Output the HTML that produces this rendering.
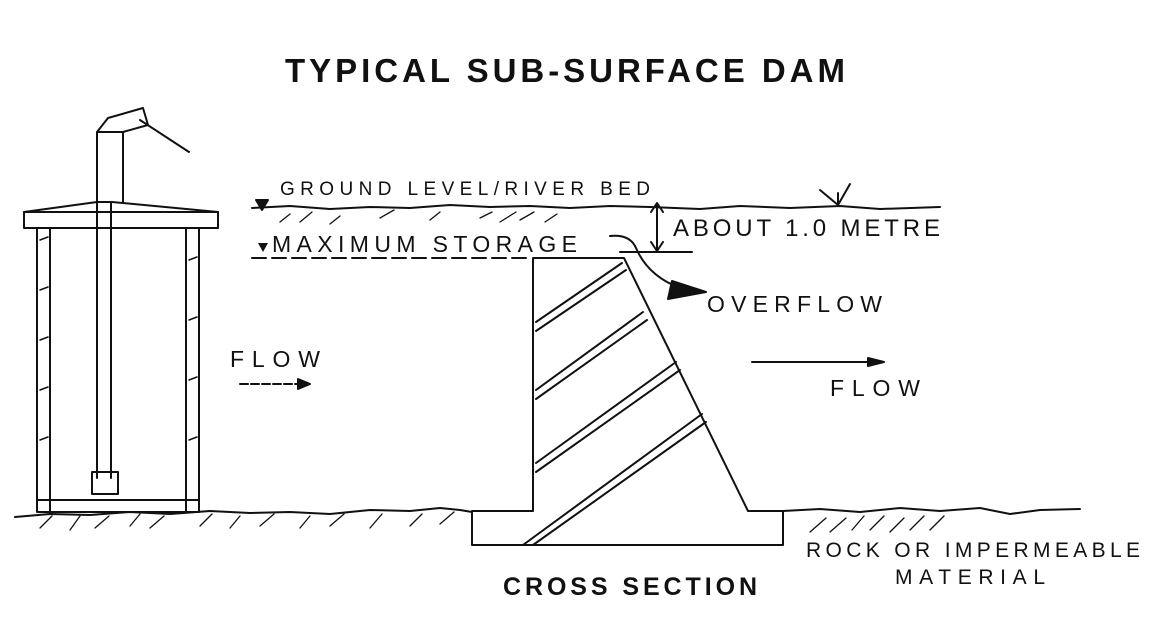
<!DOCTYPE html>
<html><head><style>
html,body{margin:0;padding:0;background:#fff;width:1151px;height:617px;overflow:hidden}
svg{display:block}
text{font-family:"Liberation Sans",sans-serif;fill:#111}
</style></head><body>
<svg width="1151" height="617" viewBox="0 0 1151 617" xmlns="http://www.w3.org/2000/svg">
<g fill="none" stroke="#111" stroke-width="2" stroke-linecap="round" stroke-linejoin="round">
<path d="M24 212 L218 212 L218 228 L24 228 Z" fill="#fff"/>
<path d="M24 212 L97 202 L112 202 L218 212"/>
<path d="M37 228 V512 M50 228 V512 M186 228 V512 M199 228 V512 M37 512 H199 M37 500 H199"/>
<path d="M97 202 V478 M111 202 V478"/>
<rect x="92" y="472" width="26" height="22"/>
<path d="M97 202 V132 M123 202 V132 M97 132 L108 118 L143 108 L148 125 L123 132 Z"/>
<path d="M140 120 L189 152"/>
<path d="M40 240 l8 -3 M40 290 l8 -3 M40 340 l8 -3 M40 390 l8 -3 M40 440 l8 -3 M189 260 l8 -3 M189 320 l8 -3 M189 380 l8 -3 M189 440 l8 -3" stroke-width="1.5"/>
<polyline points="252,208 290,206 330,209 370,207 410,208 450,205 490,207 530,206 570,208 610,206 650,207 700,209 740,206 790,208 840,206 880,209 940,207"/>
<path d="M256 200 L268 200 L262 210 Z" fill="#111"/>
<path d="M258 243 L268 243 L263 252 Z" fill="#111" stroke="none"/>
<path d="M820 190 L838 205 L850 184 M838 205 V193" />
<path d="M280 222 l10 -8 M300 222 l12 -10 M330 224 l10 -8 M380 218 l14 -8 M430 220 l10 -8 M480 218 l12 -6 M500 222 l16 -10 M520 220 l14 -8 M545 222 l12 -8" stroke-width="1.3"/>
<path d="M252 258 H532" stroke-dasharray="14 6"/>
<path d="M657 204 V250 M651 212 L657 203 L663 212 M651 242 L657 251 L663 242 M620 252 H692"/>
<path d="M610 236 Q630 234 636 248 Q648 276 680 288 L700 290"/>
<path d="M672 281 L706 292 L668 299 Z" fill="#111"/>
<path d="M472 511 H533 V258 H624 L748 511 H783 V545 H472 Z" fill="#fff"/>
<path d="M536 322 L622 263 M536 331 L626 270"/>
<path d="M536 390 L643 312 M536 399 L647 320"/>
<path d="M536 463 L676 362 M536 472 L680 370"/>
<path d="M523 545 L702 414 M533 545 L706 422"/>
<polyline points="15,517 50,514 90,515 130,512 170,514 210,511 250,513 290,512 330,514 370,510 410,511 440,508 460,510 472,512"/>
<polyline points="783,511 820,509 860,512 900,508 940,511 980,508 1010,514 1040,510 1080,509"/>
<path d="M40 528 l12 -12 M70 530 l10 -14 M95 528 l14 -12 M130 526 l10 -12 M150 528 l14 -12 M200 526 l12 -12 M230 528 l10 -12 M260 526 l14 -12 M300 528 l10 -12 M330 526 l14 -12 M370 528 l12 -14 M410 526 l12 -12 M440 524 l14 -12 M810 532 l16 -14 M830 532 l16 -14 M852 530 l12 -14 M870 530 l14 -14 M890 532 l14 -14 M910 530 l14 -14 M930 530 l14 -14" stroke-width="1.3"/>
<path d="M240 384 H305" stroke-dasharray="8 3"/>
<path d="M298 379 L310 384 L298 389 Z" fill="#111"/>
<path d="M752 362 H880"/>
<path d="M868 358 L884 362 L868 366 Z" fill="#111"/>
</g>
<text x="285" y="82" font-size="33" font-weight="bold" textLength="560" lengthAdjust="spacing">TYPICAL SUB-SURFACE DAM</text>
<text x="280" y="195" font-size="19" textLength="370" lengthAdjust="spacing">GROUND LEVEL/RIVER BED</text>
<text x="272" y="252" font-size="23" textLength="305" lengthAdjust="spacing">MAXIMUM STORAGE</text>
<text x="673" y="236" font-size="24" textLength="267" lengthAdjust="spacing">ABOUT 1.0 METRE</text>
<text x="707" y="312" font-size="23" textLength="175" lengthAdjust="spacing">OVERFLOW</text>
<text x="230" y="367" font-size="23" textLength="90" lengthAdjust="spacing">FLOW</text>
<text x="830" y="396" font-size="23" textLength="90" lengthAdjust="spacing">FLOW</text>
<text x="806" y="557" font-size="21" textLength="334" lengthAdjust="spacing">ROCK OR IMPERMEABLE</text>
<text x="895" y="584" font-size="21" textLength="150" lengthAdjust="spacing">MATERIAL</text>
<text x="503" y="595" font-size="25" font-weight="bold" textLength="254" lengthAdjust="spacing">CROSS SECTION</text>
</svg>
</body></html>
